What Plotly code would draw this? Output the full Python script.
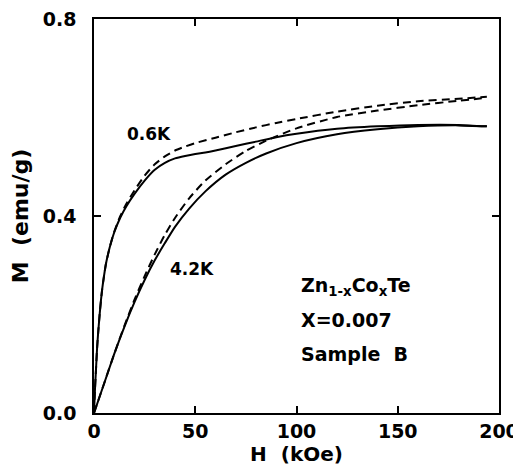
import plotly.graph_objects as go

# 0.6 K solid (measured)
h_06_solid = [0, 0.5, 1, 1.5, 2, 3, 4, 5, 6, 8, 10, 13, 16, 20, 25, 30, 35, 40, 45, 50, 55, 60, 70, 80, 90, 100, 120, 140, 160, 180, 194]
m_06_solid = [0, 0.05, 0.09, 0.13, 0.16, 0.21, 0.25, 0.28, 0.305, 0.34, 0.367, 0.397, 0.42, 0.445, 0.472, 0.494, 0.508, 0.517, 0.522, 0.526, 0.529, 0.533, 0.542, 0.551, 0.560, 0.567, 0.577, 0.582, 0.585, 0.585, 0.582]

# 0.6 K dashed (calculated)
h_06_dash = [0, 0.5, 1, 1.5, 2, 3, 4, 5, 6, 8, 10, 13, 16, 20, 25, 30, 35, 40, 45, 50, 60, 70, 80, 90, 100, 120, 140, 160, 180, 194]
m_06_dash = [0, 0.05, 0.09, 0.13, 0.16, 0.21, 0.25, 0.28, 0.305, 0.34, 0.368, 0.4, 0.425, 0.452, 0.482, 0.505, 0.521, 0.533, 0.541, 0.548, 0.559, 0.570, 0.580, 0.589, 0.597, 0.612, 0.624, 0.633, 0.638, 0.642]

# 4.2 K solid (measured)
h_42_solid = [0, 5, 10, 15, 20, 25, 30, 35, 40, 47, 55, 65, 75, 85, 100, 120, 140, 160, 180, 194]
m_42_solid = [0, 0.06, 0.12, 0.175, 0.225, 0.27, 0.31, 0.345, 0.378, 0.415, 0.45, 0.484, 0.508, 0.527, 0.548, 0.566, 0.576, 0.582, 0.584, 0.582]

# 4.2 K dashed (calculated)
h_42_dash = [0, 5, 10, 15, 20, 25, 30, 35, 40, 47, 55, 65, 75, 85, 100, 120, 140, 160, 180, 194]
m_42_dash = [0, 0.06, 0.12, 0.177, 0.23, 0.278, 0.322, 0.362, 0.396, 0.436, 0.472, 0.505, 0.532, 0.553, 0.578, 0.601, 0.614, 0.625, 0.634, 0.640]

x_ticks = [0, 50, 100, 150, 200]
y_ticks = [0.0, 0.4, 0.8]
y_tick_labels = ["0.0", "0.4", "0.8"]

FONT = "DejaVu Sans"

fig = go.Figure()
solid = dict(color="black", width=2)
dashed = dict(color="black", width=2, dash="8px,5px")
fig.add_trace(go.Scatter(x=h_06_solid, y=m_06_solid, mode="lines", line=dict(solid, shape="spline", smoothing=0.6)))
fig.add_trace(go.Scatter(x=h_06_dash, y=m_06_dash, mode="lines", line=dict(dashed, shape="spline", smoothing=0.6)))
fig.add_trace(go.Scatter(x=h_42_solid, y=m_42_solid, mode="lines", line=dict(solid, shape="spline", smoothing=0.6)))
fig.add_trace(go.Scatter(x=h_42_dash, y=m_42_dash, mode="lines", line=dict(dashed, shape="spline", smoothing=0.6)))

lab_font = dict(family=FONT, size=17, color="black", weight="bold")
txt_font = dict(family=FONT, size=19, color="black", weight="bold")
fig.add_annotation(x=27, y=0.566, text="0.6K", showarrow=False, font=lab_font)
fig.add_annotation(x=48.5, y=0.292, text="4.2K", showarrow=False, font=lab_font)
fig.add_annotation(x=101, y=0.256, text="Zn<sub>1-x</sub>Co<sub>x</sub>Te", showarrow=False, font=txt_font, xanchor="left", yanchor="middle")
fig.add_annotation(x=101, y=0.188, text="X=0.007", showarrow=False, font=txt_font, xanchor="left", yanchor="middle")
fig.add_annotation(x=101, y=0.120, text="Sample  B", showarrow=False, font=txt_font, xanchor="left", yanchor="middle")

axis_common = dict(
    showgrid=False, zeroline=False, showline=True, linecolor="black", linewidth=1.5,
    mirror="ticks", ticks="inside", ticklen=7, tickwidth=1.5, tickcolor="black",
    tickfont=dict(family=FONT, size=19, color="black", weight="bold"),
    automargin=False, ticklabeloverflow="allow",
)
fig.update_xaxes(range=[0, 200], tickvals=x_ticks,
                 title=dict(text="H&nbsp;&nbsp;(kOe)", font=dict(family=FONT, size=20, color="black", weight="bold"), standoff=4),
                 ticklabelstandoff=0, **axis_common)
fig.update_yaxes(range=[0, 0.8], tickvals=y_ticks, ticktext=y_tick_labels,
                 title=dict(text="M&nbsp;&nbsp;(emu/g)", font=dict(family=FONT, size=22, color="black", weight="bold"), standoff=9),
                 ticklabelstandoff=12, **axis_common)

# the page body has an 8px margin, so the plot area is placed relative to that
fig.update_layout(
    width=521, height=466,
    margin=dict(l=86, r=30, t=11, b=61),
    paper_bgcolor="white", plot_bgcolor="white",
    showlegend=False,
)
fig.write_html("out.html")
